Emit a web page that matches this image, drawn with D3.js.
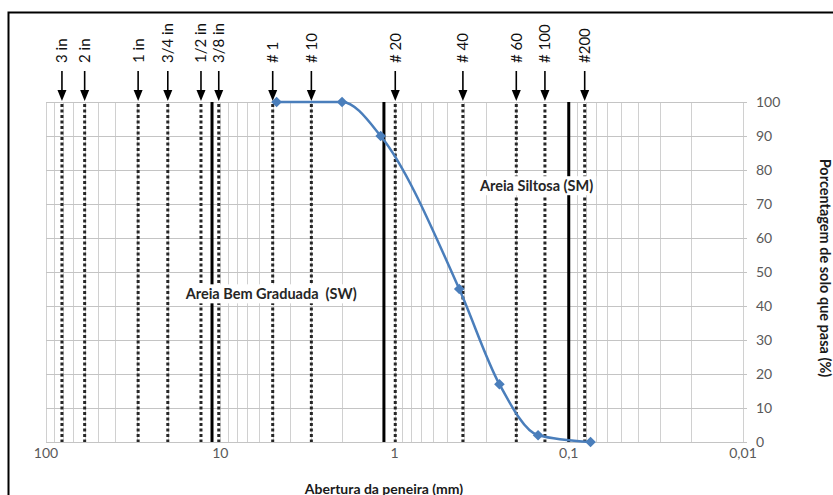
<!DOCTYPE html>
<html>
<head>
<meta charset="utf-8">
<script src="https://cdn.jsdelivr.net/npm/d3@7"></script>
<style>
  html, body { margin: 0; padding: 0; background: #fff; }
  svg { display: block; font-family: Lato, "Open Sans", sans-serif; }
</style>
</head>
<body>
<svg id="chart" width="833" height="495"></svg>
<script>
// sieve marks at the top (labels as on the picture, openings)
var sieveLabels = ["3 in", "2 in", "1 in", "3/4 in", "1/2 in", "3/8 in", "# 1", "# 10", "# 20", "# 40", "# 60", "# 100", "#200"];
var sieveOpenings = [81, 60, 29.6, 20, 12.9, 10.2, 5, 3, 0.99, 0.405, 0.2, 0.137, 0.081];

// thick solid lines
var boundaryOpenings = [11.15, 1.15, 0.1];

// grading curve
var grainSize = [4.75, 2.0, 1.2, 0.425, 0.25, 0.15, 0.075];
var percentPassing = [100, 100, 90, 45, 17, 2, 0];

// axes
var xTickValues = [100, 10, 1, 0.1, 0.01];
var xTickLabels = ["100", "10", "1", "0,1", "0,01"];
var yTickValues = [0, 10, 20, 30, 40, 50, 60, 70, 80, 90, 100];

// text boxes inside the plot
var noteTexts = ["Areia Bem Graduada  (SW)", "Areia Siltosa (SM)"];
var noteSize = [5.1, 0.153];
var notePercent = [43.5, 75.3];

var svg = d3.select('#chart');
var plotLeft = 46, plotRight = 743, plotTop = 102, plotBottom = 442;

var x = d3.scaleLog().domain([100, 0.01]).range([plotLeft, plotRight]);
var y = d3.scaleLinear().domain([0, 100]).range([plotBottom, plotTop]);

// frame
svg.append('rect')
  .attr('x', 8.5).attr('y', 12.5)
  .attr('width', 900).attr('height', 600)
  .attr('fill', 'none').attr('stroke', '#000').attr('stroke-width', 2);

// minor log grid
var minor = [];
[-2, -1, 0, 1].forEach(function (k) {
  for (var m = 1; m <= 9; m++) minor.push(m * Math.pow(10, k));
});
minor.push(100);

svg.append('g').selectAll('line').data(minor).enter().append('line')
  .attr('x1', function (d) { return Math.round(x(d)) + 0.5; })
  .attr('x2', function (d) { return Math.round(x(d)) + 0.5; })
  .attr('y1', plotTop).attr('y2', plotBottom)
  .attr('stroke', '#d0d0d0').attr('stroke-width', 1);

svg.append('g').selectAll('line').data(yTickValues).enter().append('line')
  .attr('x1', plotLeft).attr('x2', plotRight + 4)
  .attr('y1', function (d) { return Math.round(y(d)) + 0.5; })
  .attr('y2', function (d) { return Math.round(y(d)) + 0.5; })
  .attr('stroke', '#c4c4c4').attr('stroke-width', 1);

// right axis labels
svg.append('g').selectAll('text').data(yTickValues).enter().append('text')
  .attr('x', plotRight + 13)
  .attr('y', function (d) { return y(d); })
  .attr('dy', '0.36em')
  .attr('font-size', 14)
  .attr('fill', '#595959')
  .text(function (d) { return d; });

// bottom axis labels
svg.append('g').selectAll('text').data(xTickValues).enter().append('text')
  .attr('x', function (d) { return x(d); })
  .attr('y', 458)
  .attr('text-anchor', 'middle')
  .attr('font-size', 14)
  .attr('fill', '#595959')
  .text(function (d, i) { return xTickLabels[i]; });

// sieve dotted lines
svg.append('g').selectAll('line').data(sieveOpenings).enter().append('line')
  .attr('x1', function (d) { return x(d); })
  .attr('x2', function (d) { return x(d); })
  .attr('y1', plotTop + 2).attr('y2', plotBottom)
  .attr('stroke', '#262626').attr('stroke-width', 3)
  .attr('stroke-dasharray', '3,2.5');

// boundaries
svg.append('g').selectAll('line').data(boundaryOpenings).enter().append('line')
  .attr('x1', function (d) { return x(d); })
  .attr('x2', function (d) { return x(d); })
  .attr('y1', plotTop).attr('y2', plotBottom)
  .attr('stroke', '#000').attr('stroke-width', 3);

// arrows + sieve labels
var arrows = svg.append('g');
sieveOpenings.forEach(function (d, i) {
  var cx = x(d);
  arrows.append('line')
    .attr('x1', cx).attr('x2', cx).attr('y1', 71).attr('y2', 93)
    .attr('stroke', '#000').attr('stroke-width', 1.6);
  arrows.append('path')
    .attr('d', 'M' + (cx - 4.5) + ',90L' + (cx + 4.5) + ',90L' + cx + ',101Z')
    .attr('fill', '#000');
  arrows.append('text')
    .attr('transform', 'translate(' + cx + ',63) rotate(-90)')
    .attr('dy', '0.36em')
    .attr('font-size', 15)
    .attr('fill', '#111')
    .text(sieveLabels[i]);
});

// notes with white background
noteTexts.forEach(function (t, i) {
  var g = svg.append('g');
  var bg = g.append('rect').attr('fill', '#fff');
  var txt = g.append('text')
    .attr('x', x(noteSize[i]))
    .attr('y', y(notePercent[i]))
    .attr('dy', '0.36em')
    .attr('text-anchor', 'middle')
    .attr('font-size', 14.5)
    .attr('font-weight', 'bold')
    .attr('fill', '#262626')
    .attr('xml:space', 'preserve')
    .style('white-space', 'pre')
    .text(t);
  var b = txt.node().getBBox();
  bg.attr('x', b.x - 3).attr('y', b.y - 1).attr('width', b.width + 6).attr('height', b.height + 2);
});

// grading curve
var pts = grainSize.map(function (d, i) { return [d, percentPassing[i]]; });
var line = d3.line()
  .x(function (d) { return x(d[0]); })
  .y(function (d) { return y(d[1]); })
  .curve(d3.curveMonotoneX);

svg.append('path').datum(pts)
  .attr('d', line)
  .attr('fill', 'none')
  .attr('stroke', '#4a7ebb')
  .attr('stroke-width', 2.5);

svg.append('g').selectAll('path').data(pts).enter().append('path')
  .attr('transform', function (d) { return 'translate(' + x(d[0]) + ',' + y(d[1]) + ')'; })
  .attr('d', d3.symbol().type(d3.symbolDiamond2).size(72))
  .attr('fill', '#4a7ebb');

// axis titles
svg.append('text')
  .attr('x', 384).attr('y', 494)
  .attr('text-anchor', 'middle')
  .attr('font-size', 14).attr('font-weight', 'bold')
  .attr('fill', '#1a1a1a')
  .text('Abertura da peneira (mm)');

svg.append('text')
  .attr('transform', 'translate(820,268) rotate(90)')
  .attr('text-anchor', 'middle')
  .attr('font-size', 14.5).attr('font-weight', 'bold')
  .attr('fill', '#1a1a1a')
  .text('Porcentagem de solo que pasa (%)');
</script>
</body>
</html>
